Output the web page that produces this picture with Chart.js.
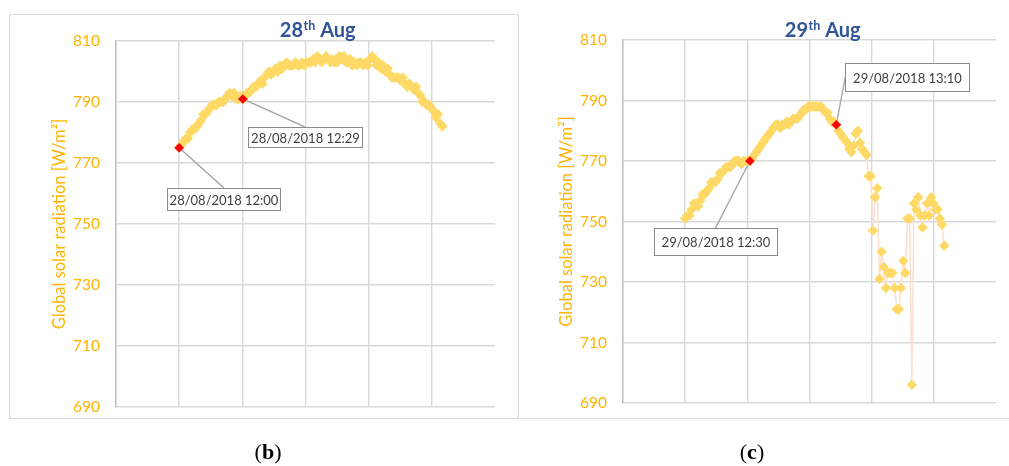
<!DOCTYPE html>
<html>
<head>
<meta charset="utf-8">
<script src="https://cdn.jsdelivr.net/npm/chart.js@4.4.1/dist/chart.umd.min.js"></script>
<style>
  html, body { margin: 0; padding: 0; background: #fff; }
  #page { position: relative; width: 1009px; height: 466px; overflow: hidden; background: #fff; }
  #frameB { position: absolute; left: 9px; top: 14px; width: 508px; height: 403px; border: 1.5px solid #d9d9d9; }
  #lineC { position: absolute; left: 520px; top: 418px; width: 489px; height: 0; border-top: 1.5px solid #e3e3e3; }
  .panel { position: absolute; top: 0; height: 466px; }
  #wrapB { left: 0; width: 520px; }
  #wrapC { left: 520px; width: 489px; }
  .cap { position: absolute; top: 439px; font-family: "Liberation Serif", serif; font-size: 22px; color: #000; transform: translateX(-50%); }
</style>
</head>
<body>
<div id="page">
  <div id="frameB"></div>
  <div id="lineC"></div>
  <div class="panel" id="wrapB"><canvas id="chartB"></canvas></div>
  <div class="panel" id="wrapC"><canvas id="chartC"></canvas></div>
  <div class="cap" style="left:268px">(<b>b</b>)</div>
  <div class="cap" style="left:752px">(<b>c</b>)</div>
</div>
<script>
// One reading per minute, 12:00 to 14:00
const firstMinute = '12:00';
const yTicks = [690, 710, 730, 750, 770, 790, 810];

// 28/08/2018 global solar radiation, W/m2
const radiationAug28 = [
  775, 776, 777, 778, 778, 780, 781, 781, 782, 783, 784, 786, 786, 787, 788, 789, 789, 789, 790, 790,
  790, 791, 792, 793, 792, 793, 791, 791, 792, 791,
  792, 793, 793, 794, 795, 795, 796, 797, 796, 798, 799, 800, 799, 800, 801, 800, 802, 801, 802, 803,
  802, 802, 802, 803, 802, 802, 803, 802, 803, 803, 803,
  804, 803, 805, 804, 803, 804, 805, 804, 803, 804, 803, 803, 805, 804, 805, 803, 803, 804, 802, 803,
  802, 803, 803, 802, 803, 802, 804, 805, 804, 802,
  803, 801, 802, 800, 801, 799, 798, 798, 798, 798, 797, 798, 796, 795, 796, 795, 794, 795, 793, 792,
  790, 790, 789, 789, 788, 787, 785, 786, 783, 782
];

// 29/08/2018 global solar radiation, W/m2
const radiationAug29 = [
  751, 752, 752, 754, 756, 756, 755, 757, 759, 759, 760, 761, 763, 763, 763, 764, 766, 766, 767, 768,
  768, 768, 769, 770, 770, 770, 769, 770, 770, 770, 770,
  771, 772, 773, 774, 775, 776, 777, 778, 779, 780, 781, 782, 782, 781, 782, 782, 783, 782, 783, 784,
  784, 784, 785, 786, 787, 787, 788, 788, 788, 788, 788, 788, 788, 787, 786, 786, 784, 783, 783,
  782, 780, 779, 778, 777, 776, 774, 773, 775, 779, 780, 776, 774, 773, 772, 765, 765, 747, 758, 761,
  731, 740, 735, 728, 733, 733, 733, 728, 721, 721, 728, 737, 733, 751, 751, 696, 756, 754, 758, 752,
  748, 752, 756, 752, 758, 756, 754, 754, 751, 749, 742
];

const markedAug28 = ['12:00', '12:29'];
const markedAug29 = ['12:30', '13:10'];

function minuteLabels(start, count) {
  const [h, m] = start.split(':').map(Number);
  const out = [];
  for (let i = 0; i < count; i++) {
    const t = h * 60 + m + i;
    out.push(String(Math.floor(t / 60)).padStart(2, '0') + ':' + String(t % 60).padStart(2, '0'));
  }
  return out;
}
// time of day as a fraction of the day
function dayFraction(label) {
  const [h, m] = label.split(':').map(Number);
  return (h * 60 + m) / 1440;
}

const xGrid = [0.48, 0.50, 0.52, 0.54, 0.56, 0.58, 0.60];

const ORANGE = '#ffb300';
const GRID = '#d9d9d9';
const FONT = 'Lato, "Open Sans", sans-serif';

// Chart title with a superscript ordinal
const supTitle = {
  id: 'supTitle',
  afterDraw(chart, args, opts) {
    const ctx = chart.ctx, a = chart.chartArea;
    ctx.save();
    ctx.fillStyle = '#2f5597';
    ctx.textBaseline = 'alphabetic';
    const big = 'bold 20px ' + FONT;
    const small = 'bold 12.5px ' + FONT;
    ctx.font = big; const w1 = ctx.measureText(opts.main).width; const w3 = ctx.measureText(opts.rest).width;
    ctx.font = small; const w2 = ctx.measureText(opts.sup).width;
    let x = (a.left + a.right) / 2 + opts.shift - (w1 + w2 + w3) / 2;
    const y = opts.y;
    ctx.font = big; ctx.textAlign = 'left'; ctx.fillText(opts.main, x, y); x += w1;
    ctx.font = small; ctx.fillText(opts.sup, x + 0.5, y - 7.5); x += w2 + 0.5;
    ctx.font = big; ctx.fillText(opts.rest, x, y);
    ctx.restore();
  }
};

// Call-out boxes for the marked readings
function pointPixel(chart, label) {
  const ds = chart.data.datasets[0];
  const p = ds.data.find(d => d.t === label);
  return { x: chart.scales.x.getPixelForValue(p.x), y: chart.scales.y.getPixelForValue(p.y) };
}
const callouts = {
  id: 'callouts',
  beforeDatasetsDraw(chart, args, opts) {
    const ctx = chart.ctx;
    ctx.save();
    ctx.strokeStyle = '#a0a0a0';
    ctx.lineWidth = 1.3;
    opts.items.forEach(it => {
      const p = pointPixel(chart, it.time);
      const bx = p.x + it.dx, by = p.y + it.dy;
      const ex = it.anchor === 'left' ? bx : bx + it.w / 2;
      const ey = it.anchor === 'left' ? by + it.h / 2 : by;
      ctx.beginPath(); ctx.moveTo(p.x, p.y); ctx.lineTo(ex, ey); ctx.stroke();
    });
    ctx.restore();
  },
  afterDatasetsDraw(chart, args, opts) {
    const ctx = chart.ctx;
    ctx.save();
    opts.items.forEach(it => {
      const p = pointPixel(chart, it.time);
      const bx = Math.round(p.x + it.dx) + 0.5, by = Math.round(p.y + it.dy) + 0.5;
      ctx.fillStyle = '#fff';
      ctx.fillRect(bx, by, it.w, it.h);
      ctx.strokeStyle = '#8a8a8a'; ctx.lineWidth = 1;
      ctx.strokeRect(bx, by, it.w, it.h);
      ctx.fillStyle = '#404040';
      ctx.font = '13px ' + FONT;
      ctx.textAlign = 'center'; ctx.textBaseline = 'middle';
      ctx.fillText(opts.date + ' ' + it.time, bx + it.w / 2, by + it.h / 2 + 1);
    });
    ctx.restore();
  }
};

function buildChart(canvasId, values, marked, cfg) {
  const labels = minuteLabels(firstMinute, values.length);
  const points = labels.map((t, i) => ({ x: dayFraction(t), y: values[i], t }));
  const markedPoints = points.filter(p => marked.includes(p.t));
  return new Chart(document.getElementById(canvasId), {
    type: 'scatter',
    data: {
      datasets: [
        {
          data: points, order: 1, showLine: true,
          borderColor: '#fbe0cf', borderWidth: 1.5,
          pointStyle: 'rectRot', pointRadius: 5.2, pointBorderWidth: 0,
          pointBackgroundColor: '#ffd966'
        },
        {
          data: markedPoints, order: 0, showLine: false,
          pointStyle: 'rectRot', pointRadius: 4.8, pointBorderWidth: 0,
          pointBackgroundColor: '#ff0000'
        }
      ]
    },
    options: {
      responsive: true, maintainAspectRatio: false, animation: false,
      layout: { padding: cfg.padding },
      plugins: {
        legend: { display: false }, tooltip: { enabled: false }, title: { display: false },
        supTitle: cfg.title,
        callouts: cfg.callouts
      },
      scales: {
        x: {
          type: 'linear', min: xGrid[0], max: xGrid[xGrid.length - 1],
          afterBuildTicks: s => { s.ticks = xGrid.map(v => ({ value: v })); },
          afterFit: s => { s.height = 0; },
          ticks: { display: false },
          border: { display: false },
          grid: { color: c => c.index === xGrid.length - 1 ? 'rgba(0,0,0,0)' : GRID, lineWidth: 1.4, drawTicks: false }
        },
        y: {
          min: yTicks[0], max: yTicks[yTicks.length - 1],
          afterBuildTicks: s => { s.ticks = yTicks.map(v => ({ value: v })); },
          afterFit: s => { s.width = cfg.axisWidth; },
          ticks: { color: ORANGE, padding: 16, font: { family: FONT, size: 15.5 } },
          border: { display: true, color: '#bfbfbf', width: 1.4 },
          grid: { color: GRID, lineWidth: 1.4, drawTicks: false },
          title: {
            display: true, text: 'Global solar radiation [W/m²]', color: ORANGE,
            font: { family: FONT, size: 16.5 },
            padding: { top: cfg.titlePad, bottom: 0 }
          }
        }
      }
    },
    plugins: [supTitle, callouts]
  });
}

buildChart('chartB', radiationAug28, markedAug28, {
  padding: { left: 0, right: 25, top: 41, bottom: 59 },
  axisWidth: 116,
  titlePad: 50,
  title: { main: '28', sup: 'th', rest: ' Aug', y: 37, shift: 12 },
  callouts: {
    date: '28/08/2018',
    items: [
      { time: markedAug28[0], dx: -12, dy: 40, w: 113, h: 22, anchor: 'top' },
      { time: markedAug28[1], dx: 5, dy: 28, w: 114, h: 20, anchor: 'top' }
    ]
  }
});

buildChart('chartC', radiationAug29, markedAug29, {
  padding: { left: 0, right: 13, top: 40, bottom: 63 },
  axisWidth: 103,
  titlePad: 37,
  title: { main: '29', sup: 'th', rest: ' Aug', y: 37, shift: 13 },
  callouts: {
    date: '29/08/2018',
    items: [
      { time: markedAug29[0], dx: -96, dy: 67, w: 123, h: 27, anchor: 'top' },
      { time: markedAug29[1], dx: 9, dy: -62, w: 124, h: 28, anchor: 'left' }
    ]
  }
});
</script>
</body>
</html>
